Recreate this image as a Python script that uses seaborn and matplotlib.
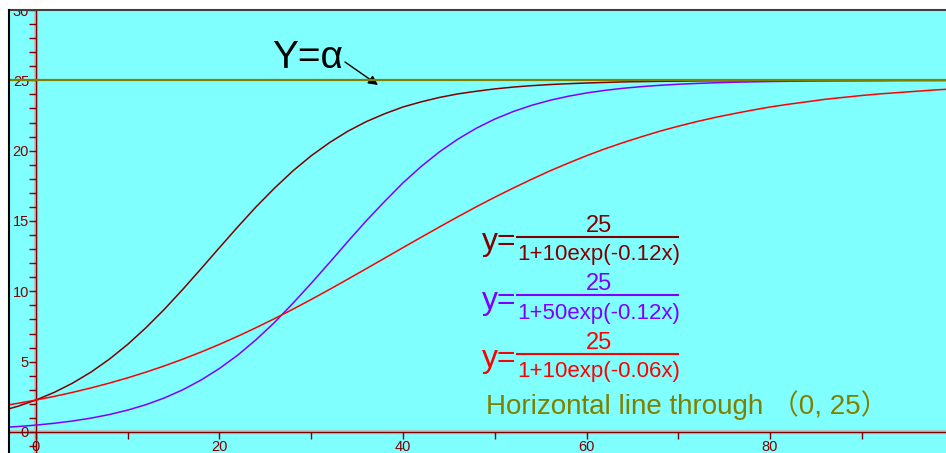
import matplotlib
matplotlib.use("Agg")
import numpy as np
import pandas as pd
import matplotlib.pyplot as plt
import seaborn as sns
from matplotlib.lines import Line2D
from matplotlib.patches import Rectangle
from matplotlib.ticker import MultipleLocator

# sample grid on the x axis
x_vals = list(range(-4, 101, 2))

# y = 25 / (1 + 10 exp(-0.12x))   (maroon)
y_a = [1.457, 1.823, 2.273, 2.820, 3.478, 4.260, 5.177, 6.231, 7.421, 8.729,
       10.138, 11.612, 13.109, 14.586, 16.015, 17.337, 18.560, 19.639, 20.576, 21.386,
       22.065, 22.624, 23.105, 23.474, 23.787, 24.038, 24.225, 24.390, 24.52, 24.62,
       24.70, 24.76, 24.81, 24.85, 24.89, 24.91, 24.93, 24.94, 24.96, 24.97,
       24.97, 24.98, 24.98, 24.98, 24.99, 24.99, 24.99, 24.99, 24.99, 25.00,
       25.00, 25.00, 25.00]

# y = 25 / (1 + 50 exp(-0.12x))   (purple)
y_b = [0.306, 0.387, 0.490, 0.620, 0.783, 0.987, 1.241, 1.557, 1.946, 2.422,
       3.001, 3.696, 4.517, 5.470, 6.570, 7.788, 9.147, 10.571, 12.048, 13.550,
       15.015, 16.393, 17.713, 18.886, 19.930, 20.828, 21.597, 22.244, 22.779, 23.219,
       23.578, 23.867, 24.101, 24.286, 24.436, 24.553, 24.647, 24.722, 24.780, 24.827,
       24.864, 24.892, 24.916, 24.933, 24.948, 24.959, 24.968, 24.975, 24.980, 24.985,
       24.988, 24.990, 24.992]

# y = 25 / (1 + 10 exp(-0.06x))   (red)
y_c = [1.823, 2.037, 2.273, 2.533, 2.820, 3.134, 3.478, 3.853, 4.260, 4.702,
       5.177, 5.687, 6.231, 6.810, 7.421, 8.062, 8.729, 9.423, 10.138, 10.870,
       11.612, 12.358, 13.109, 13.850, 14.586, 15.309, 16.015, 16.689, 17.337, 17.960,
       18.560, 19.113, 19.639, 20.129, 20.576, 20.991, 21.386, 21.739, 22.065, 22.361,
       22.624, 22.873, 23.105, 23.299, 23.474, 23.652, 23.787, 23.923, 24.038, 24.131,
       24.225, 24.319, 24.390]

alpha_level = 25
curve_names = ["a", "b", "c"]
curve_colors = ["#800000", "#8000FF", "#FF0000"]
denominators = ["1+10exp(-0.12x)", "1+50exp(-0.12x)", "1+10exp(-0.06x)"]
numerator = "25"
hline_label = "Horizontal line through （0, 25）"
alpha_label = "Y=α"

x_ticks_major = 20
x_ticks_minor = 10
y_ticks_major = 5
y_ticks_minor = 1

AXIS_COL = "#800000"
BG = "#80FFFF"
OLIVE = "#808000"

W, H = 946, 453
plt.rcParams["font.family"] = ["Liberation Sans", "Noto Sans CJK SC", "DejaVu Sans"]


def fx(px):
    return px / W


def fy(py):
    return 1 - py / H


df = pd.DataFrame({
    "x": x_vals * 3,
    "y": y_a + y_b + y_c,
    "curve": [n for n in curve_names for _ in x_vals],
})

fig = plt.figure(figsize=(W / 100, H / 100), dpi=100)
fig.patch.set_facecolor("white")
ax = fig.add_axes([fx(9), 0, 1 - fx(9), 1 - 10 / H])
ax.set_facecolor(BG)

sns.lineplot(data=df, x="x", y="y", hue="curve", palette=dict(zip(curve_names, curve_colors)),
             linewidth=1.1, legend=False, ax=ax, zorder=3)
ax.axhline(alpha_level, color=OLIVE, lw=1.6, zorder=4)

ax.set_xlim(-2.94, 99.18)
ax.set_ylim(-1.493, 30)

# axes drawn through the origin
for s in ["top", "right"]:
    ax.spines[s].set_visible(False)
for s in ["left", "bottom"]:
    ax.spines[s].set_position(("data", 0))
    ax.spines[s].set_color(AXIS_COL)
    ax.spines[s].set_linewidth(1.0)
    ax.spines[s].set_zorder(2.5)
ax.axvline(0, color="#b8c8c8", lw=3.2, zorder=1)
ax.axhline(0, color="#b8c8c8", lw=3.2, zorder=1)

ax.xaxis.set_major_locator(MultipleLocator(x_ticks_major))
ax.xaxis.set_minor_locator(MultipleLocator(x_ticks_minor))
ax.yaxis.set_major_locator(MultipleLocator(y_ticks_major))
ax.yaxis.set_minor_locator(MultipleLocator(y_ticks_minor))
ax.tick_params(which="both", direction="out", length=5, width=1, color=AXIS_COL,
               labelcolor=AXIS_COL, labelsize=10.5)
ax.tick_params(axis="y", pad=0)
ax.tick_params(axis="x", pad=1)
ax.set_xlabel("")
ax.set_ylabel("")

# white strip above the plot and the outer frame
fig.add_artist(Rectangle((0, fy(10)), 1, 10 / H, transform=fig.transFigure,
                         facecolor="white", edgecolor="none", zorder=5))
fig.add_artist(Line2D([fx(9), 1], [fy(10), fy(10)], color="#404040", lw=1.5, zorder=6))
fig.add_artist(Line2D([fx(9), fx(9)], [0, fy(10)], color="black", lw=1.5, zorder=6))

# Y = alpha with arrow
fig.text(fx(272), fy(68), alpha_label, fontsize=28, color="black", va="baseline", ha="left")
ax.annotate("", xy=(378, H - 85), xytext=(345, H - 62), xycoords="figure pixels",
            textcoords="figure pixels",
            arrowprops=dict(arrowstyle="-|>", color="black", lw=1, mutation_scale=14,
                            shrinkA=0, shrinkB=0))

# formulas
row_offsets = [0, 58.5, 117]
for col, den, off in zip(curve_colors, denominators, row_offsets):
    fig.text(fx(482), fy(250 + off), "y=", fontsize=23, color=col, va="baseline", ha="left")
    fig.text(fx(599), fy(232 + off), numerator, fontsize=17, color=col, va="baseline", ha="center")
    fig.add_artist(Line2D([fx(517), fx(678)], [fy(236.5 + off)] * 2, color=col, lw=1.5))
    fig.text(fx(599), fy(260 + off), den, fontsize=16, color=col, va="baseline", ha="center")

fig.text(fx(486), fy(414), hline_label, fontsize=20, color=OLIVE, va="baseline", ha="left")

fig.savefig("out.png", dpi=100, facecolor="white")
